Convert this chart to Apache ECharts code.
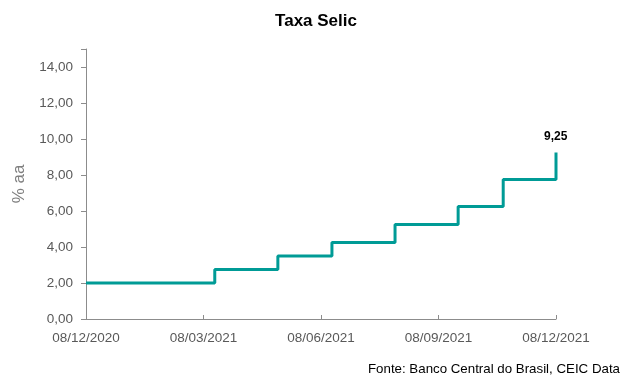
<!DOCTYPE html>
<html><head><meta charset="utf-8">
<script src="https://cdn.jsdelivr.net/npm/echarts@6/dist/echarts.min.js"></script>
<style>html,body{margin:0;padding:0;background:#fff}#c{width:632px;height:385px}</style>
</head><body><div id="c"></div>
<script>
const startDate = "2020-12-08";
const changeDates = ["2020-12-08","2021-03-18","2021-05-06","2021-06-17","2021-08-05","2021-09-23","2021-10-28","2021-12-08"];
const selicValues = [2.00, 2.75, 3.50, 4.25, 5.25, 6.25, 7.75, 9.25];
const xTickLabels = ["08/12/2020","08/03/2021","08/06/2021","08/09/2021","08/12/2021"];
const yTickMax = 14;

const DAY = 86400000;
const t0 = Date.parse(startDate + "T00:00:00Z");
const dayOf = s => Math.round((Date.parse(s + "T00:00:00Z") - t0) / DAY);
const totalDays = 365;
const xInterval = totalDays / (xTickLabels.length - 1);
const data = changeDates.map((d, i) => [dayOf(d), selicValues[i]]);
const fmt = v => v.toFixed(2).replace('.', ',');
const font = "Liberation Sans, Arial, sans-serif";

const chart = echarts.init(document.getElementById('c'), null, {renderer: 'canvas'});
chart.setOption({
  animation: false,
  backgroundColor: '#fff',
  title: {
    text: 'Taxa Selic', left: 'center', top: 8,
    textStyle: {fontFamily: font, fontSize: 17, fontWeight: 'bold', color: '#000'}
  },
  graphic: [{
    type: 'text', right: 12, top: 363,
    style: {text: 'Fonte: Banco Central do Brasil, CEIC Data', font: '13.3px ' + font, fill: '#000'}
  }],
  grid: {left: 86, right: 76, top: 49, bottom: 66, containLabel: false},
  xAxis: {
    type: 'value', min: 0, max: totalDays, interval: xInterval,
    axisLine: {show: true, lineStyle: {color: '#8c8c8c', width: 1}},
    axisTick: {show: true, inside: true, length: 4, lineStyle: {color: '#8c8c8c'}},
    splitLine: {show: false},
    axisLabel: {
      color: '#595959', fontFamily: font, fontSize: 13.5, margin: 12,
      formatter: v => xTickLabels[Math.round(v / xInterval)] || ''
    }
  },
  yAxis: {
    type: 'value', min: 0, max: 15, interval: 2,
    name: '% aa', nameLocation: 'middle', nameGap: 58, nameRotate: 90,
    nameTextStyle: {color: '#7f7f7f', fontFamily: font, fontSize: 17},
    axisLine: {show: true, lineStyle: {color: '#8c8c8c', width: 1}},
    axisTick: {show: true, length: 5, lineStyle: {color: '#8c8c8c'}},
    splitLine: {show: false},
    axisLabel: {
      color: '#595959', fontFamily: font, fontSize: 13.5, margin: 13,
      formatter: v => v <= yTickMax ? fmt(v) : ''
    }
  },
  series: [{
    type: 'line', step: 'end', data: data, symbol: 'none',
    lineStyle: {color: '#009b96', width: 3},
    label: {show: false},
    endLabel: {
      show: true, formatter: p => fmt(p.value[1]),
      offset: [-20, -16], fontFamily: font, fontSize: 12, fontWeight: 'bold', color: '#000'
    }
  }]
});
</script></body></html>
